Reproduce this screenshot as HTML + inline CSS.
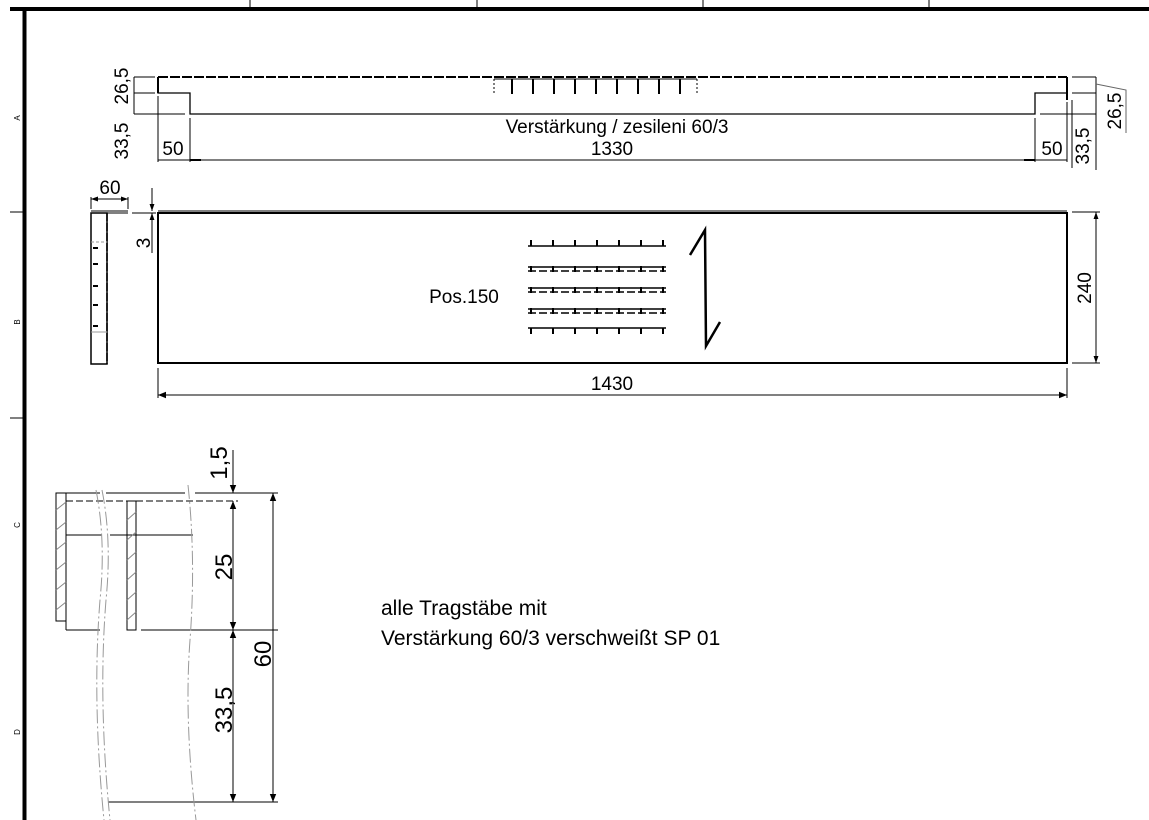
<!DOCTYPE html>
<html><head><meta charset="utf-8"><style>
html,body{margin:0;padding:0;background:#fff;}
svg{display:block;}
text{font-family:"Liberation Sans",sans-serif;fill:#000;}
</style></head><body>
<svg width="1149" height="820" viewBox="0 0 1149 820" xmlns="http://www.w3.org/2000/svg">
<defs>
<marker id="a" viewBox="0 0 10 10" refX="10" refY="5" markerWidth="10" markerHeight="7" orient="auto-start-reverse" markerUnits="userSpaceOnUse"><path d="M0,1.5 L10,5 L0,8.5z" fill="#000"/></marker>
<marker id="b" viewBox="0 0 10 10" refX="10" refY="5" markerWidth="18" markerHeight="8" orient="auto-start-reverse" markerUnits="userSpaceOnUse"><path d="M0,1 L10,5 L0,9z" fill="#000"/></marker>
</defs>
<g stroke="#000" fill="none">
<!-- frame -->
<line x1="10" y1="9" x2="1149" y2="9" stroke-width="4"/>
<line x1="24.5" y1="9" x2="24.5" y2="820" stroke-width="4"/>
<g stroke-width="1">
<line x1="250" y1="0" x2="250" y2="8"/><line x1="477" y1="0" x2="477" y2="8"/><line x1="703" y1="0" x2="703" y2="8"/><line x1="929" y1="0" x2="929" y2="8"/>
<line x1="10" y1="212" x2="23" y2="212"/><line x1="10" y1="418" x2="23" y2="418"/>
</g>
<!-- top view -->
<line x1="158" y1="77" x2="1067" y2="77" stroke-width="2" stroke-dasharray="10,2"/>
<path d="M158,77 V93 H190 V114 H1035 V93 H1067 V77" stroke-width="1.3"/>
<line x1="158" y1="77" x2="158" y2="93" stroke-width="2"/>
<line x1="1067" y1="77" x2="1067" y2="100" stroke-width="2"/>
<g stroke-width="1">
<line x1="134" y1="77" x2="155" y2="77"/><line x1="134" y1="93" x2="155" y2="93"/><line x1="134" y1="114" x2="185" y2="114"/>
<line x1="134" y1="77" x2="134" y2="114"/>
<line x1="158" y1="96" x2="158" y2="162"/><line x1="190" y1="118" x2="190" y2="162"/>
<line x1="1035" y1="118" x2="1035" y2="162"/><line x1="1067" y1="102" x2="1067" y2="162"/>
<line x1="158" y1="160" x2="1067" y2="160"/>
<line x1="190" y1="160" x2="201" y2="160" stroke-width="2"/><line x1="1024" y1="160" x2="1035" y2="160" stroke-width="2"/>
<line x1="1072" y1="77" x2="1096" y2="77"/><line x1="1072" y1="93" x2="1096" y2="93"/><line x1="1040" y1="114" x2="1096" y2="114"/>
<line x1="1096" y1="77" x2="1096" y2="170"/>
<line x1="1072" y1="100" x2="1072" y2="168"/>
<path d="M1096,84 L1126,90 L1126,133" stroke="#666"/>
</g>
<g stroke-width="2">
<line x1="512" y1="79" x2="512" y2="94"/><line x1="533" y1="79" x2="533" y2="94"/><line x1="554" y1="79" x2="554" y2="94"/><line x1="575" y1="79" x2="575" y2="94"/><line x1="596" y1="79" x2="596" y2="94"/><line x1="617" y1="79" x2="617" y2="94"/><line x1="638" y1="79" x2="638" y2="94"/><line x1="659" y1="79" x2="659" y2="94"/><line x1="680" y1="79" x2="680" y2="94"/>
</g>
<line x1="494" y1="79" x2="697" y2="79" stroke-width="1"/>
<line x1="494" y1="79" x2="494" y2="95" stroke-width="1" stroke-dasharray="2,2"/><line x1="697" y1="79" x2="697" y2="95" stroke-width="1" stroke-dasharray="2,2"/>
<!-- middle view -->
<rect x="158" y="213" width="909" height="150" stroke-width="2"/>
<line x1="158" y1="211" x2="1067" y2="211" stroke-width="1"/>
<g stroke-width="1">
<line x1="1072" y1="212" x2="1100" y2="212"/><line x1="1072" y1="363" x2="1100" y2="363"/>
<line x1="1096" y1="212" x2="1096" y2="363" marker-start="url(#a)" marker-end="url(#a)"/>
<line x1="158" y1="368" x2="158" y2="398"/><line x1="1067" y1="368" x2="1067" y2="398"/>
<line x1="158" y1="395" x2="1067" y2="395" marker-start="url(#b)" marker-end="url(#b)"/>
</g>
<!-- side view -->
<rect x="91" y="213" width="16" height="151" stroke-width="1.5"/>
<line x1="91" y1="211" x2="128" y2="211" stroke-width="1"/><line x1="107" y1="213" x2="128" y2="213" stroke-width="1"/>
<line x1="107" y1="213" x2="107" y2="364" stroke-width="1.5" stroke-dasharray="8,2"/>
<line x1="91" y1="242" x2="107" y2="242" stroke="#999" stroke-dasharray="3,2"/><line x1="91" y1="332" x2="107" y2="332" stroke="#999"/>
<g stroke-width="2"><line x1="93" y1="248" x2="98" y2="248"/><line x1="93" y1="264" x2="98" y2="264"/><line x1="93" y1="286" x2="98" y2="286"/><line x1="93" y1="305" x2="98" y2="305"/><line x1="93" y1="326" x2="98" y2="326"/></g>
<line x1="91" y1="197" x2="91" y2="209" stroke-width="1"/><line x1="128" y1="197" x2="128" y2="209" stroke-width="1"/>
<line x1="91" y1="199" x2="128" y2="199" stroke-width="1" marker-start="url(#a)" marker-end="url(#a)"/>
<line x1="152" y1="188" x2="152" y2="211" stroke-width="1" marker-end="url(#a)"/>
<line x1="152" y1="213" x2="152" y2="253" stroke-width="1" marker-start="url(#a)"/>
<line x1="132" y1="213" x2="156" y2="213" stroke-width="1"/>
<!-- grating pattern -->
<g stroke-width="1.6">
<line x1="528" y1="246" x2="666" y2="246"/>
<line x1="528" y1="267" x2="666" y2="267"/><line x1="528" y1="271" x2="666" y2="271" stroke-dasharray="8,3"/>
<line x1="528" y1="288" x2="666" y2="288"/><line x1="528" y1="292" x2="666" y2="292" stroke-dasharray="8,3"/>
<line x1="528" y1="309" x2="666" y2="309"/><line x1="528" y1="313" x2="666" y2="313" stroke-dasharray="8,3"/>
<line x1="528" y1="328" x2="666" y2="328"/>
</g>
<g stroke-width="2">
<path d="M531,240V246M553,240V246M575,240V246M597,240V246M619,240V246M641,240V246M663,240V246"/>
<path d="M531,328V334M553,328V334M575,328V334M597,328V334M619,328V334M641,328V334M663,328V334"/>
<path d="M531,266V272M553,266V272M575,266V272M597,266V272M619,266V272M641,266V272M663,266V272"/>
<path d="M531,287V293M553,287V293M575,287V293M597,287V293M619,287V293M641,287V293M663,287V293"/>
<path d="M531,308V314M553,308V314M575,308V314M597,308V314M619,308V314M641,308V314M663,308V314"/>
</g>
<path d="M690,255 L705,230 L706,346 L720,322" stroke-width="2.5"/>
<!-- section view -->
<g stroke-width="1">
<line x1="56" y1="493" x2="100" y2="493"/><line x1="106" y1="493" x2="185" y2="493"/><line x1="195" y1="493" x2="278" y2="493"/>
<line x1="66" y1="501" x2="238" y2="501" stroke-dasharray="7,3"/>
<line x1="66" y1="535" x2="102" y2="535"/><line x1="110" y1="535" x2="193" y2="535"/>
<line x1="66" y1="630" x2="100" y2="630"/><line x1="141" y1="630" x2="278" y2="630"/>
<line x1="108" y1="802" x2="278" y2="802"/>
<rect x="56" y="493" width="10" height="128"/>
<line x1="66" y1="493" x2="66" y2="630"/>
<rect x="127" y="501" width="9" height="129"/>
<path d="M56,510 L66,502 M56,530 L66,522 M56,550 L66,542 M56,570 L66,562 M56,590 L66,582 M56,610 L66,602 M127,520 L136,512 M127,540 L136,532 M127,560 L136,552 M127,580 L136,572 M127,600 L136,592 M127,620 L136,612" stroke="#888"/>
<line x1="233" y1="450" x2="233" y2="493" marker-end="url(#b)"/>
<line x1="233" y1="501" x2="233" y2="630" marker-start="url(#b)" marker-end="url(#b)"/>
<line x1="233" y1="630" x2="233" y2="802" marker-start="url(#b)" marker-end="url(#b)"/>
<line x1="273" y1="493" x2="273" y2="802" marker-start="url(#b)" marker-end="url(#b)"/>
</g>
<g stroke="#999" stroke-width="1" stroke-dasharray="14,3,2,3">
<path d="M96,490 Q106,540 100,600 Q92,700 104,820"/>
<path d="M102,490 Q112,540 106,600 Q98,700 110,820"/>
<path d="M188,485 Q196,560 190,640 Q184,720 196,820"/>
</g>
</g>
<!-- text -->
<g font-size="19">
<text transform="translate(128,86) rotate(-90)" text-anchor="middle">26,5</text>
<text transform="translate(128,141) rotate(-90)" text-anchor="middle">33,5</text>
<text x="173" y="155" text-anchor="middle">50</text>
<text x="612" y="155" text-anchor="middle">1330</text>
<text x="1052" y="155" text-anchor="middle">50</text>
<text transform="translate(1089,146) rotate(-90)" text-anchor="middle">33,5</text>
<text transform="translate(1121,111) rotate(-90)" text-anchor="middle">26,5</text>
<text x="617" y="133" text-anchor="middle">Verstärkung / zesileni 60/3</text>
<text x="110" y="194" text-anchor="middle">60</text>
<text transform="translate(150,243) rotate(-90)" text-anchor="middle">3</text>
<text x="464" y="303" text-anchor="middle">Pos.150</text>
<text transform="translate(1091,288) rotate(-90)" text-anchor="middle">240</text>
<text x="612" y="390" text-anchor="middle">1430</text>
</g>
<g font-size="24">
<text transform="translate(227,463) rotate(-90)" text-anchor="middle">1,5</text>
<text transform="translate(232,567) rotate(-90)" text-anchor="middle">25</text>
<text transform="translate(232,710) rotate(-90)" text-anchor="middle">33,5</text>
<text transform="translate(271,654) rotate(-90)" text-anchor="middle">60</text>
</g>
<g font-size="21">
<text x="381" y="615">alle Tragstäbe mit</text>
<text x="381" y="645">Verstärkung 60/3 verschweißt SP 01</text>
</g>
<g font-size="8">
<text transform="translate(20,118) rotate(-90)" text-anchor="middle">A</text>
<text transform="translate(20,322) rotate(-90)" text-anchor="middle">B</text>
<text transform="translate(20,525) rotate(-90)" text-anchor="middle">C</text>
<text transform="translate(20,732) rotate(-90)" text-anchor="middle">D</text>
</g>
</svg>
</body></html>
